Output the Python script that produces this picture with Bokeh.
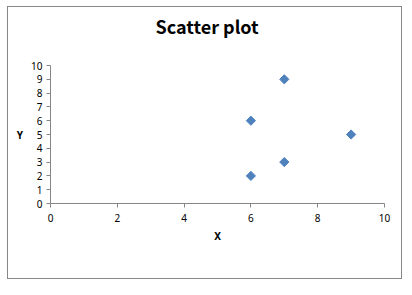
import math
from bokeh.plotting import figure
from bokeh.models import FixedTicker, Title
from bokeh.embed import file_html
from bokeh.resources import INLINE

title = "Scatter plot"
x_label = "X"
y_label = "Y"
xs = [6, 6, 7, 7, 9]
ys = [2, 6, 3, 9, 5]
x_ticks = [0, 2, 4, 6, 8, 10]
y_ticks = [0, 1, 2, 3, 4, 5, 6, 7, 8, 9, 10]

p = figure(width=393, height=271, output_backend="svg", toolbar_location=None,
           x_range=(0, 10), y_range=(0, 10), title=None,
           min_border_left=42, min_border_right=17, min_border_top=58, min_border_bottom=75)
p.frame_width = 334
p.frame_height = 138
p.margin = (6, 0, 0, 7)
p.styles = {"border": "1px solid #878787"}
p.outline_line_color = None
p.grid.grid_line_color = None
p.background_fill_color = "white"
p.border_fill_color = "white"

spacer = Title(text=" ", text_font_size="1px", standoff=24)
p.add_layout(spacer, "above")
main_title = Title(text=title, text_font="Noto Sans CJK KR", text_font_size="18px",
                   text_font_style="bold", text_color="black",
                   align="left", offset=105, standoff=0)
p.add_layout(main_title, "above")

p.scatter(xs, ys, marker="square", size=6.5, angle=math.pi / 4,
          color="#4F81BD", line_color="#4F81BD")

for ax in (p.xaxis[0], p.yaxis[0]):
    ax.axis_line_color = "#868686"
    ax.major_tick_line_color = "#868686"
    ax.minor_tick_line_color = None
    ax.major_tick_in = 0
    ax.major_tick_out = 4
    ax.major_label_text_font = "Noto Sans"
    ax.major_label_text_font_size = "10px"
    ax.major_label_text_color = "black"
    ax.axis_label_text_font = "Noto Sans"
    ax.axis_label_text_font_size = "10px"
    ax.axis_label_text_font_style = "bold"
    ax.axis_label_text_color = "black"

p.xaxis[0].ticker = FixedTicker(ticks=x_ticks)
p.yaxis[0].ticker = FixedTicker(ticks=y_ticks)
p.xaxis[0].axis_label = x_label
p.yaxis[0].axis_label = y_label
p.yaxis[0].axis_label_orientation = "horizontal"
p.xaxis[0].major_label_standoff = 6
p.yaxis[0].major_label_standoff = 4
p.xaxis[0].axis_label_standoff = 4
p.yaxis[0].axis_label_standoff = 5

open("out.html", "w").write(file_html(p, INLINE))
